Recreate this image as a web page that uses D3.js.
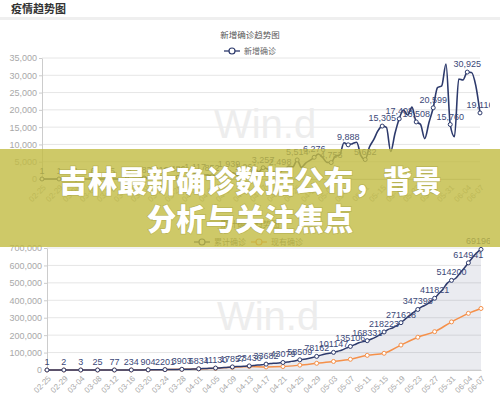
<!DOCTYPE html>
<html>
<head>
<meta charset="utf-8">
<script src="https://cdn.jsdelivr.net/npm/d3@7"></script>
<style>
body { margin: 0; background: #fff; }
svg { display: block; font-family: "Liberation Sans", Arial, sans-serif; }
.cjk { font-family: "Noto Sans CJK SC", sans-serif; }
</style>
</head>
<body>
<div id="chart-area"></div>
<script>

// Dates shown on the x axis (every 4th day + the last one)
var tickLabels = ["02-25","02-29","03-04","03-08","03-12","03-16","03-20","03-24","03-28",
    "04-01","04-05","04-09","04-13","04-17","04-21","04-25","04-29","05-03","05-07",
    "05-11","05-15","05-19","05-23","05-27","05-31","06-04","06-07"];

// 新增确诊, one value per day from 02-25 to 06-07
var newCases = [1,0,0,0,1,0,0,0,1,5,
    5,6,6,0,9,18,25,21,23,79,
    34,57,137,193,283,224,418,345,310,232,
    482,502,486,353,323,1138,1117,1076,1146,1222,
    852,926,1661,2201,1939,1781,1089,1442,1261,1832,
    3058,2105,3257,2917,2055,1927,2498,2678,3735,3503,
    5514,3379,4613,5385,6276,7218,6209,4805,4753,6633,
    6935,10503,9888,10222,10611,6760,5632,9258,11385,13944,
    15305,14919,7938,13140,17408,19951,18508,20803,16508,15813,
    11687,16324,20599,26417,26928,33274,15760,12247,28936,28633,
    30925,30830,27075,19116];

// 累计确诊, one value per day
var totalCases = [1,1,1,1,2,2,2,2,3,8,
    13,19,25,25,34,52,77,98,121,200,
    234,291,428,621,904,1128,1546,1891,2201,2433,
    2915,3417,3903,4256,4579,5717,6834,7910,9056,10278,
    11130,12056,13717,15918,17857,19638,20727,22169,23430,25262,
    28320,30425,33682,36599,38654,40581,43079,45757,49492,52995,
    58509,61888,66501,71886,78162,85380,91589,96394,101147,107780,
    114715,125218,135106,145328,155939,162699,168331,177589,188974,202918,
    218223,233142,241080,254220,271628,291579,310087,330890,347398,363211,
    374898,391222,411821,438238,465166,498440,514200,526447,555383,584016,
    614941,645771,672846,691962];

// 现有确诊, at the labelled dates only
var activeCases = [1,2,3,25,77,230,880,2150,3750,6300,10100,15200,20500,
    17500,19800,27900,38500,49000,61500,84000,96000,143000,188000,220000,
    276000,325000,353000];

var navy = "#2d3a6c",
    orange = "#f5904a",
    gridColor = "#e6e6e6",
    axisColor = "#cccccc",
    labelColor = "#a8a8a8";

var width = 500, height = 398;

var svg = d3.select("#chart-area").append("svg")
    .attr("width", width)
    .attr("height", height);

svg.append("rect").attr("width", width).attr("height", height).attr("fill", "#fff");

// the page cuts the charts at the right
svg.append("defs").append("clipPath").attr("id", "cut")
    .append("rect").attr("x", 0).attr("y", 0).attr("width", 490).attr("height", height);

// Page header
svg.append("text")
    .attr("class", "cjk")
    .attr("x", 11).attr("y", 13)
    .attr("font-size", "11px")
    .attr("font-weight", "bold")
    .attr("fill", "#333")
    .text("疫情趋势图");
svg.append("rect")
    .attr("x", 0).attr("y", 17)
    .attr("width", width).attr("height", 3)
    .attr("fill", "#efefef");

var parseDay = d3.timeParse("%Y-%m-%d");
var formatDay = d3.timeFormat("%m-%d");
var days = d3.timeDay.range(parseDay("2020-02-25"), parseDay("2020-06-08")).map(formatDay);

var fmt = d3.format(",");

function legendItem(g, x, y, color, label) {
    g.append("line")
        .attr("x1", x).attr("x2", x + 16)
        .attr("y1", y).attr("y2", y)
        .attr("stroke", color).attr("stroke-width", 1.3);
    g.append("circle")
        .attr("cx", x + 8).attr("cy", y).attr("r", 3)
        .attr("fill", "#fff").attr("stroke", color).attr("stroke-width", 1.2);
    g.append("text")
        .attr("class", "cjk")
        .attr("x", x + 20).attr("y", y)
        .attr("dy", "0.35em")
        .attr("font-size", "8px")
        .attr("fill", "#666")
        .text(label);
}

// draws grid, axes and watermark; returns the group
function frame(x, y, yTicks, yFormat, left, right, title, titleY, markY) {
    var g = svg.append("g").attr("clip-path", "url(#cut)");

    g.selectAll(".grid").data(yTicks).enter().append("line")
        .attr("x1", left).attr("x2", right)
        .attr("y1", function(d) { return y(d); })
        .attr("y2", function(d) { return y(d); })
        .attr("stroke", gridColor);

    g.append("text")
        .attr("x", (left + right) / 2 + 4)
        .attr("y", markY)
        .attr("text-anchor", "middle")
        .attr("font-size", "40px")
        .attr("fill", "#ededed")
        .text("Win.d");

    g.append("text")
        .attr("class", "cjk")
        .attr("x", 250).attr("y", titleY)
        .attr("text-anchor", "middle")
        .attr("dy", "0.35em")
        .attr("font-size", "8.5px")
        .attr("fill", "#555")
        .text(title);

    var yAxis = g.append("g")
        .attr("transform", "translate(" + left + ",0)")
        .call(d3.axisLeft(y).tickValues(yTicks).tickFormat(yFormat)
            .tickSize(3).tickSizeOuter(0).tickPadding(2));
    yAxis.select(".domain").attr("stroke", axisColor);
    yAxis.selectAll(".tick line").attr("stroke", axisColor);
    yAxis.selectAll("text")
        .attr("fill", labelColor)
        .attr("font-size", "9px")
        .attr("font-family", "Liberation Sans, Arial, sans-serif");

    var base = y(0);
    var xAxis = g.append("g")
        .attr("transform", "translate(0," + base + ")")
        .call(d3.axisBottom(x).tickValues(tickLabels).tickSize(0).tickSizeOuter(0));
    xAxis.select(".domain").attr("stroke", axisColor);
    xAxis.selectAll("text")
        .attr("x", 0).attr("y", 0).attr("dy", "0.35em")
        .attr("text-anchor", "end")
        .attr("transform", "translate(2,7) rotate(-45)")
        .attr("fill", labelColor)
        .attr("font-size", "8px")
        .attr("font-family", "Liberation Sans, Arial, sans-serif");

    return g;
}

/******************************** 新增确诊 ********************************/

var xTop = d3.scalePoint().domain(days).range([42, 480]);
var yTop = d3.scaleLinear().domain([0, 35000]).range([179, 58]);

var gTop = frame(xTop, yTop, yTop.ticks(7), fmt, 42, 480, "新增确诊趋势图", 35, 138);
legendItem(gTop, 224, 51, navy, "新增确诊");

var topLine = d3.line()
    .x(function(d, i) { return xTop(days[i]); })
    .y(function(d) { return yTop(d); })
    .curve(d3.curveMonotoneX);

gTop.append("path")
    .attr("d", topLine(newCases))
    .attr("fill", "none")
    .attr("stroke", navy)
    .attr("stroke-width", 1.6);

var topPts = tickLabels.map(function(t) { return { day: t, v: newCases[days.indexOf(t)] }; });

gTop.selectAll(".pt").data(topPts).enter().append("circle")
    .attr("cx", function(d) { return xTop(d.day); })
    .attr("cy", function(d) { return yTop(d.v); })
    .attr("r", 2)
    .attr("fill", "#fff")
    .attr("stroke", navy)
    .attr("stroke-width", 1);

gTop.selectAll(".lbl").data(topPts).enter().append("text")
    .attr("x", function(d) { return xTop(d.day); })
    .attr("y", function(d) { return yTop(d.v) - 5; })
    .attr("text-anchor", "middle")
    .attr("font-size", "9px")
    .attr("fill", "#3b4878")
    .text(function(d) { return fmt(d.v); });

/******************************** 累计确诊 ********************************/

var xBot = d3.scalePoint().domain(days).range([47, 481]);
var yBot = d3.scaleLinear().domain([0, 700000]).range([370, 248]);

var gBot = frame(xBot, yBot, yBot.ticks(7), fmt, 47, 481, "累计确诊趋势图", 224, 330);
legendItem(gBot, 194, 242, navy, "累计确诊");
legendItem(gBot, 251, 242, orange, "现有确诊");

var area = d3.area()
    .x(function(d, i) { return xBot(days[i]); })
    .y0(yBot(0))
    .y1(function(d) { return yBot(d); })
    .curve(d3.curveMonotoneX);

gBot.append("path")
    .attr("d", area(totalCases))
    .attr("fill", navy)
    .attr("fill-opacity", 0.1);

var activeLine = d3.line()
    .x(function(d, i) { return xBot(tickLabels[i]); })
    .y(function(d) { return yBot(d); })
    .curve(d3.curveMonotoneX);

gBot.append("path")
    .attr("d", activeLine(activeCases))
    .attr("fill", "none")
    .attr("stroke", orange)
    .attr("stroke-width", 1.5);

gBot.selectAll(".apt").data(activeCases).enter().append("circle")
    .attr("cx", function(d, i) { return xBot(tickLabels[i]); })
    .attr("cy", function(d) { return yBot(d); })
    .attr("r", 2)
    .attr("fill", "#fff")
    .attr("stroke", orange)
    .attr("stroke-width", 1);

var totalLine = d3.line()
    .x(function(d, i) { return xBot(days[i]); })
    .y(function(d) { return yBot(d); })
    .curve(d3.curveMonotoneX);

gBot.append("path")
    .attr("d", totalLine(totalCases))
    .attr("fill", "none")
    .attr("stroke", navy)
    .attr("stroke-width", 1.5);

var botPts = tickLabels.map(function(t) { return { day: t, v: totalCases[days.indexOf(t)] }; });

gBot.selectAll(".tpt").data(botPts).enter().append("circle")
    .attr("cx", function(d) { return xBot(d.day); })
    .attr("cy", function(d) { return yBot(d.v); })
    .attr("r", 2)
    .attr("fill", "#fff")
    .attr("stroke", navy)
    .attr("stroke-width", 1);

gBot.selectAll(".tlbl").data(botPts).enter().append("text")
    .attr("x", function(d) { return xBot(d.day); })
    .attr("y", function(d) { return yBot(d.v) - 5; })
    .attr("text-anchor", "middle")
    .attr("font-size", "9px")
    .attr("fill", "#3b4878")
    .text(function(d) { return d.v; });

/******************************** Banner ********************************/

svg.append("rect")
    .attr("x", 0).attr("y", 149)
    .attr("width", width).attr("height", 98)
    .attr("fill", "rgb(194,188,66)")
    .attr("fill-opacity", 0.8);

var banner = ["吉林最新确诊数据公布，背景", "分析与关注焦点"];
svg.selectAll(".banner").data(banner).enter().append("text")
    .attr("class", "cjk")
    .attr("x", 250)
    .attr("y", function(d, i) { return 181 + i * 38; })
    .attr("dy", "0.36em")
    .attr("text-anchor", "middle")
    .attr("font-size", "29.5px")
    .attr("font-weight", 900)
    .attr("fill", "#fff")
    .style("paint-order", "stroke")
    .attr("stroke", "rgba(120,115,30,0.25)")
    .attr("stroke-width", 1.5)
    .text(function(d) { return d; });

</script>
</body>
</html>
